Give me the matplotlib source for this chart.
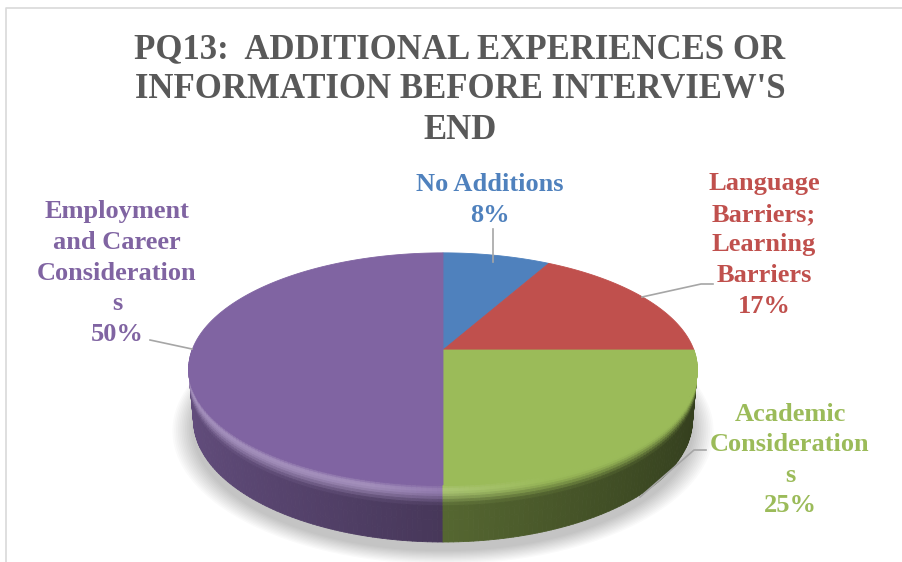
import numpy as np
import matplotlib.pyplot as plt
from matplotlib.colors import to_rgb
from matplotlib.collections import PolyCollection
from matplotlib.patches import Polygon

# survey answers (percent of respondents)
categories = ["No Additions", "Language\nBarriers;\nLearning\nBarriers",
              "Academic\nConsideration\ns", "Employment\nand Career\nConsideration\ns"]
values = [8, 17, 25, 50]
colors = ["#4f81bd", "#c0504d", "#9bbb59", "#8064a2"]

title = "PQ13:  ADDITIONAL EXPERIENCES OR\nINFORMATION BEFORE INTERVIEW'S\nEND"

plt.rcParams["font.family"] = ["Liberation Serif", "DejaVu Serif"]

fig = plt.figure(figsize=(9.02, 5.62), dpi=100)
ax = fig.add_axes([0, 0, 1, 1])
ax.set_xlim(0, 902)
ax.set_ylim(562, 0)
ax.axis("off")

# chart frame
ax.plot([6, 6, 902], [562, 8, 8], color="#d9d9d9", lw=1.2)

# simple perspective camera for the 3d pie
cx, cy = 443, 350
F, D = 1380, 5.5
sinp = 0.45
cosp = np.sqrt(1 - sinp ** 2)
H = 0.23  # thickness


def proj(theta, r=1.0, z=0.0):
    t = np.radians(theta)
    x = r * np.cos(t)
    y = r * np.sin(t)
    depth = D + y * cosp - z * sinp
    return cx + x * F / depth, cy - (y * sinp + z * cosp) * F / depth


def mix(a, b, s):
    return tuple(np.clip(np.array(a) * (1 - s) + np.array(b) * s, 0, 1))


# slice angles, starting at 12 o'clock going clockwise
total = sum(values)
bounds = [90.0]
for v in values:
    bounds.append(bounds[-1] - v / total * 360)


def slice_of(theta):
    a = (90 - theta) % 360
    acc = 0
    for i, v in enumerate(values):
        acc += v / total * 360
        if a < acc:
            return i
    return len(values) - 1


def smooth(s):
    s = np.clip(s, 0, 1)
    return s * s * (3 - 2 * s)


# soft shadow under the pie
for i in range(12):
    r = 1.0 + 0.007 * (12 - i)
    th = np.linspace(0, 360, 200)
    xs, ys = proj(th, r, -H - 0.02)
    ax.add_patch(Polygon(np.c_[xs, ys + 3], closed=True, fc="#000000",
                         ec="none", alpha=0.02, zorder=1))

# side wall with a rounded top edge, drawn back to front
zt = np.array([0, 0.03, 0.06, 0.09, 0.12, 0.16, 0.2, 0.25, 0.3, 0.36,
               0.45, 0.6, 0.8, 1.0])
steps = np.arange(180, 360, 1.0)
order = sorted(steps, key=lambda t: -np.sin(np.radians(t + 0.5)))
polys, cols = [], []
for t0 in order:
    tm = t0 + 0.5
    i = slice_of(tm)
    c = np.cos(np.radians(tm))
    base = to_rgb(colors[i])
    side = tuple(np.array(base) * (0.55 - 0.22 * c))
    hl_amt = 0.28 * np.clip((0.35 - c) / 0.6, 0, 1)
    hl = mix(base, (1, 1, 1), hl_amt)
    th = np.array([t0, t0 + 1.0])
    for j in range(len(zt) - 1):
        za, zb = -zt[j] * H, -zt[j + 1] * H
        xa, ya = proj(th, 1.0, za)
        xb, yb = proj(th[::-1], 1.0, zb)
        polys.append(np.c_[np.r_[xa, xb], np.r_[ya, yb]])
        s = 0.5 * (zt[j] + zt[j + 1])
        if s < 0.09:
            col = mix(base, hl, smooth(s / 0.09))
        else:
            col = mix(hl, side, smooth((s - 0.09) / 0.3))
        cols.append(col)
ax.add_collection(PolyCollection(polys, facecolors=cols, edgecolors=cols,
                                 linewidths=0.6, zorder=2))

# top face
for i in range(len(values)):
    th = np.linspace(bounds[i], bounds[i + 1], 120)
    xs, ys = proj(th)
    pts = np.r_[[[cx, cy]], np.c_[xs, ys]]
    ax.add_patch(Polygon(pts, closed=True, fc=colors[i], ec=colors[i],
                         lw=0.6, zorder=3))

# title
ax.text(460, 90, title, ha="center", va="center", fontsize=25,
        fontweight="bold", color="#595959", linespacing=1.3)

# data labels and leader lines
lead = "#a6a6a6"
label_pos = [(490, 200), (764, 245), (790, 460), (117, 273)]
leaders = [
    ([493, 493], [229, 262]),
    ([713, 701, 642], [284, 284, 297]),
    ([706, 694, 640], [450, 450, 497]),
    ([150, 192], [340, 349]),
]
for i, cat in enumerate(categories):
    x, y = label_pos[i]
    ax.text(x, y, f"{cat}\n{values[i]}%", ha="center", va="center",
            fontsize=19, fontweight="bold", color=colors[i], linespacing=1.42,
            zorder=6)
    lx, ly = leaders[i]
    ax.plot(lx, ly, color=lead, lw=1.2, zorder=5)

fig.savefig("out.png", dpi=100)
